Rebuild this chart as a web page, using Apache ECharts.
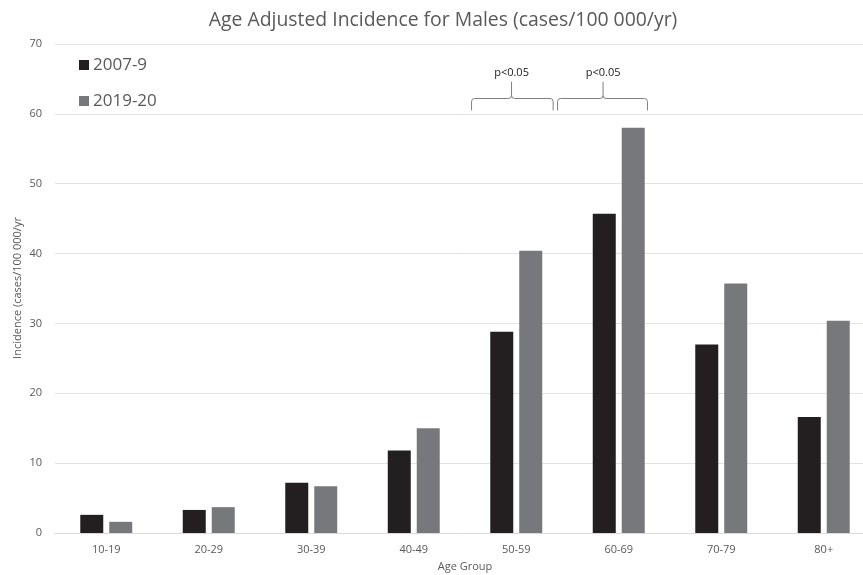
<!DOCTYPE html>
<html>
<head>
<meta charset="utf-8">
<script src="https://cdn.jsdelivr.net/npm/echarts@6/dist/echarts.min.js"></script>
<style>html,body{margin:0;padding:0;background:#fff}#c{width:863px;height:575px}</style>
</head>
<body>
<div id="c"></div>
<script>
var categories = ['10-19', '20-29', '30-39', '40-49', '50-59', '60-69', '70-79', '80+'];
var series2007 = [2.6, 3.3, 7.2, 11.8, 28.8, 45.7, 27.0, 16.6];
var series2019 = [1.6, 3.7, 6.7, 15.0, 40.4, 58.0, 35.7, 30.4];
var yTicks = [0, 10, 20, 30, 40, 50, 60, 70];
// significance brackets: category index of the group, label, and bracket value level
var brackets = [
  { cat: 4, label: 'p<0.05', level: 62.2 },
  { cat: 5, label: 'p<0.05', level: 62.2 }
];

var FONT = '"Open Sans", "Noto Sans", sans-serif';
var TXT = '#595959';
// horizontal extents of each bracket relative to its category (in band fractions)
var bracketSpan = [[-0.436, 0.36, -0.046], [-0.597, 0.28, -0.153]];

var chart = echarts.init(document.getElementById('c'));
chart.setOption({
  animation: false,
  backgroundColor: '#fff',
  title: {
    text: 'Age Adjusted Incidence for Males (cases/100 000/yr)',
    left: 438, top: 6, textAlign: 'center',
    textStyle: { fontFamily: FONT, fontSize: 19.4, fontWeight: 'normal', color: TXT }
  },
  legend: {
    orient: 'vertical', left: 74, top: 50,
    itemWidth: 10, itemHeight: 10, itemGap: 16, icon: 'rect',
    textStyle: { fontFamily: FONT, fontSize: 17, color: TXT, lineHeight: 20, padding: [0, 0, 0, -1] },
    data: ['2007-9', '2019-20']
  },
  graphic: [{
    type: 'text', x: 18, y: 288, rotation: Math.PI / 2,
    style: { text: 'Incidence (cases/100 000/yr', fill: TXT, fontFamily: FONT, fontSize: 11, align: 'center', verticalAlign: 'middle' }
  }],
  grid: { left: 55, top: 44, width: 820, height: 489, outerBoundsMode: 'none', containLabel: false },
  xAxis: {
    type: 'category', data: categories,
    name: 'Age Group', nameLocation: 'middle', nameGap: 28,
    nameTextStyle: { fontFamily: FONT, fontSize: 11, color: TXT },
    axisLine: { lineStyle: { color: '#d9d9d9', width: 1 } },
    axisTick: { show: false },
    axisLabel: { fontFamily: FONT, fontSize: 11, color: TXT, margin: 11 }
  },
  yAxis: {
    type: 'value', min: yTicks[0], max: yTicks[yTicks.length - 1], interval: 10,
    axisLine: { show: false }, axisTick: { show: false },
    axisLabel: { fontFamily: FONT, fontSize: 11, color: TXT, margin: 13 },
    splitLine: { lineStyle: { color: '#e3e3e3', width: 1 } }
  },
  series: [
    { name: '2007-9', type: 'bar', data: series2007, barWidth: 23, barGap: '26%',
      itemStyle: { color: '#231f20' } },
    { name: '2019-20', type: 'bar', data: series2019, barWidth: 23, barGap: '26%',
      itemStyle: { color: '#77787b' } },
    {
      type: 'custom', name: 'brackets', silent: true, z: 10,
      data: brackets.map(function (b) { return [b.cat, b.level]; }),
      encode: { x: 0, y: 1 },
      renderItem: function (params, api) {
        var b = brackets[params.dataIndex];
        var span = bracketSpan[params.dataIndex];
        var c = api.coord([api.value(0), api.value(1)]);
        var bw = api.size([1, 0])[0];
        var xl = c[0] + span[0] * bw, xr = c[0] + span[1] * bw, xc = c[0] + span[2] * bw;
        var yl = c[1];
        var ye = api.coord([0, b.level - 1.7])[1];
        var yt = api.coord([0, b.level + 2.4])[1];
        var ytx = api.coord([0, b.level + 3.7])[1];
        var r = 3;
        var d = 'M' + xl + ',' + ye + ' L' + xl + ',' + (yl + r) + ' Q' + xl + ',' + yl + ' ' + (xl + r) + ',' + yl +
          ' L' + (xc - r) + ',' + yl + ' Q' + xc + ',' + yl + ' ' + xc + ',' + (yl - r) + ' L' + xc + ',' + yt +
          ' M' + xc + ',' + (yl - r) + ' Q' + xc + ',' + yl + ' ' + (xc + r) + ',' + yl +
          ' L' + (xr - r) + ',' + yl + ' Q' + xr + ',' + yl + ' ' + xr + ',' + (yl + r) + ' L' + xr + ',' + ye;
        return {
          type: 'group',
          children: [
            { type: 'path', shape: { pathData: d }, style: { fill: null, stroke: '#7f7f7f', lineWidth: 1 } },
            { type: 'text', x: xc, y: ytx, style: { text: b.label, fill: '#1a1a1a', fontFamily: FONT, fontSize: 11, align: 'center', verticalAlign: 'middle' } }
          ]
        };
      }
    }
  ]
});
</script>
</body>
</html>
